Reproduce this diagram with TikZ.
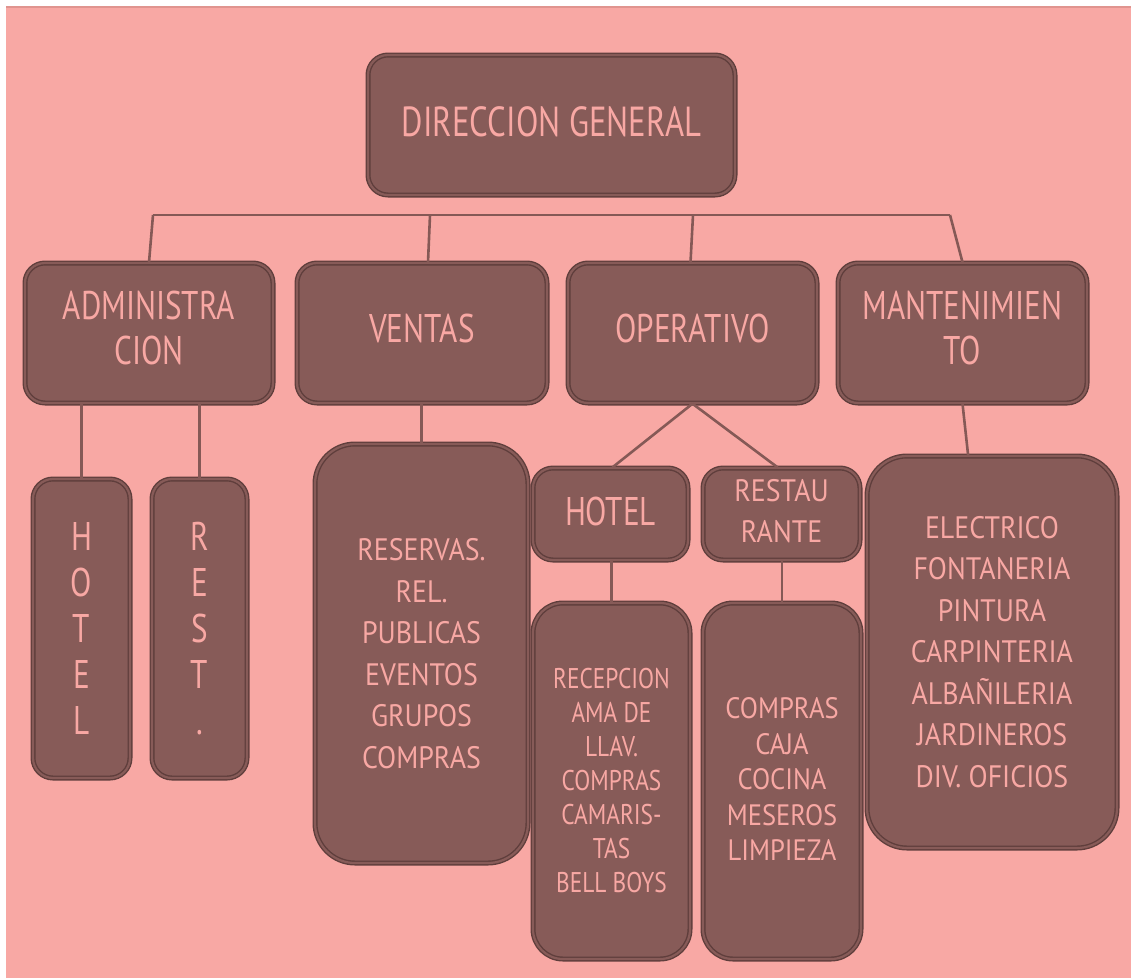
\documentclass[tikz,border=0pt]{standalone}
\usepackage{fontspec}
\setmainfont{PT Sans}[FakeStretch=0.78]
\newfontfamily\fone{PT Sans}[FakeStretch=0.78]
\newfontfamily\ftwo{PT Sans}[FakeStretch=0.9]
\newfontfamily\fthree{PT Sans}[FakeStretch=0.82]
\usetikzlibrary{calc}
\definecolor{bgpink}{HTML}{F8A8A4}
\definecolor{topline}{HTML}{E0948F}
\definecolor{boxfill}{HTML}{875B58}
\definecolor{boxline}{HTML}{5F3E3C}
\definecolor{txt}{HTML}{F8A8A4}
\definecolor{conn}{HTML}{855956}
\begin{document}
\begin{tikzpicture}[x=1pt,y=-1pt,
  box/.style={draw=boxline, fill=boxfill, line width=1.4pt, double=boxfill,
    double distance=2.2pt, rounded corners=20pt, text=txt, align=center, inner sep=0pt},
  lvlone/.style={font=\fone\fontsize{40}{45}\selectfont, text depth=10pt},
  lvltwo/.style={font=\ftwo\fontsize{31}{41.5}\selectfont},
  vert/.style={font=\fone\fontsize{40}{46}\selectfont},
  conline/.style={draw=conn, line width=2.6pt}]
\useasboundingbox (0,0) rectangle (1131,978);
\fill[white] (0,0) rectangle (1131,978);
\fill[bgpink] (6,6) rectangle (1131,978);
\draw[topline, line width=2pt] (6,7) -- (1131,7);

% nodes
\node[box, minimum width=367pt, minimum height=140pt, font=\fone\fontsize{42}{46}\selectfont, text depth=6pt] (dg) at (551.5,125) {DIRECCION GENERAL};
\node[box, lvlone, minimum width=248pt, minimum height=140pt] (adm) at (149,333) {ADMINISTRA\\CION};
\node[box, lvlone, minimum width=250pt, minimum height=140pt] (ven) at (422,333) {VENTAS};
\node[box, lvlone, minimum width=249pt, minimum height=140pt] (ope) at (692.5,333) {OPERATIVO};
\node[box, lvlone, minimum width=249pt, minimum height=140pt] (man) at (962.5,333) {MANTENIMIEN\\TO};

\node[box, vert, minimum width=97pt, minimum height=299pt] (ah) at (81.5,628.5) {H\\O\\T\\E\\L};
\node[box, vert, minimum width=95pt, minimum height=299pt] (ar) at (199.5,628.5) {R\\E\\S\\T\\.};

\node[box, lvltwo, rounded corners=40pt, minimum width=213pt, minimum height=419pt] (vs) at (421.5,653.5)
  {RESERVAS.\\REL.\\PUBLICAS\\EVENTOS\\GRUPOS\\COMPRAS};

\node[box, lvlone, text depth=6pt, minimum width=155pt, minimum height=92pt] (oh) at (610.5,514) {HOTEL};
\node[box, font=\ftwo\fontsize{31}{41}\selectfont, text depth=6pt, minimum width=157pt, minimum height=92pt] (or) at (781.5,514) {RESTAU\\RANTE};

\node[box, font=\fthree\fontsize{28.5}{34}\selectfont, rounded corners=30pt, minimum width=157pt, minimum height=356pt] (ohs) at (611.5,781)
  {RECEPCION\\AMA DE\\LLAV.\\COMPRAS\\CAMARIS-\\TAS\\BELL BOYS};
\node[box, font=\ftwo\fontsize{29.5}{35.5}\selectfont, text depth=4pt, rounded corners=30pt, minimum width=158pt, minimum height=356pt] (ors) at (782,781)
  {COMPRAS\\CAJA\\COCINA\\MESEROS\\LIMPIEZA};

\node[box, lvltwo, rounded corners=40pt, minimum width=250pt, minimum height=392pt] (ms) at (992,652)
  {ELECTRICO\\FONTANERIA\\PINTURA\\CARPINTERIA\\ALBAÑILERIA\\JARDINEROS\\DIV. OFICIOS};

% connectors
\coordinate (b1) at (153,215);
\coordinate (b2) at (950,215);
\coordinate (bv) at (430,215);
\coordinate (bo) at (693,215);
\draw[conline] (b1) -- (b2);
\draw[conline] (b1) -- (adm.north);
\draw[conline] (bv) -- ($(ven.north)+(6,0)$);
\draw[conline] (bo) -- ($(ope.north)+(-2,0)$);
\draw[conline] (b2) -- (man.north);
\draw[conline] (ah.north |- adm.south) -- (ah.north);
\draw[conline] (ar.north |- adm.south) -- (ar.north);
\draw[conline] (vs.north |- ven.south) -- (vs.north);
\draw[conline] (ope.south) -- ($(oh.north)+(2,0)$);
\draw[conline] (ope.south) -- ($(or.north)+(-4,0)$);
\draw[conline] (ohs.north |- oh.south) -- (ohs.north);
\draw[conline] (ors.north |- or.south) -- (ors.north);
\draw[conline] (man.south) -- ($(ms.north west)!0.405!(ms.north east)$);
\end{tikzpicture}
\end{document}
